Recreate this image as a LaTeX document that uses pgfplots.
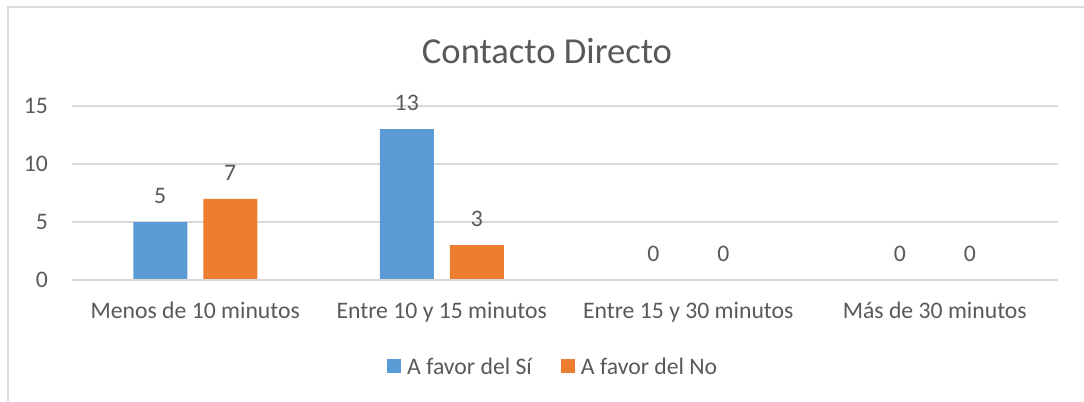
\documentclass[border=0pt]{standalone}
\usepackage{pgfplots}
\pgfplotsset{compat=1.18}
\usepackage{fontspec}
\setmainfont{Carlito}
\definecolor{sblue}{HTML}{5B9BD5}
\definecolor{sorange}{HTML}{ED7D31}
\definecolor{txt}{HTML}{595959}
\definecolor{gridc}{HTML}{D9D9D9}
\newcommand{\lf}{\fontsize{23.7bp}{28bp}\selectfont}
\begin{document}
\begin{tikzpicture}[x=1bp,y=1bp]
\useasboundingbox (0,0) rectangle (1084,401);
\draw[gridc, line width=1.2bp] (8,0) -- (8,394) -- (1084,394);
\node[txt, anchor=base, inner sep=0pt, font=\fontsize{36.6bp}{40bp}\selectfont] at (547,338) {Contacto Directo};
\begin{axis}[
  at={(72bp,121bp)}, anchor=south west,
  scale only axis, width=986bp, height=174bp,
  /pgf/number format/assume math mode=true,
  ymin=0, ymax=15, ytick={0,5,10,15},
  xmin=-0.5, xmax=3.5, xtick={0,1,2,3},
  xticklabels={Menos de 10 minutos, Entre 10 y 15 minutos, Entre 15 y 30 minutos, Más de 30 minutos},
  ymajorgrids, grid style={gridc, line width=1.3bp},
  axis line style={draw=none},
  major tick length=0pt,
  tick label style={txt, font=\lf},
  yticklabel style={anchor=east, inner sep=0pt, xshift=-24bp},
  xticklabel style={anchor=base, inner sep=0pt, yshift=-38bp},
  ybar=16bp, bar width=54bp,
  nodes near coords,
  every node near coord/.append style={txt, font=\lf, inner sep=0pt, yshift=18.5bp},
  legend columns=2,
  legend style={at={(0.487,-0.494)}, anchor=center, draw=none, fill=none, font=\lf, text=txt,
    /tikz/every even column/.append style={column sep=29bp},
    nodes={inner sep=0pt, text depth=0pt}},
  legend image code/.code={\fill[#1] (0bp,-7bp) rectangle (14bp,7bp);},
  legend cell align=left,
  clip=false,
]
\addplot[fill=sblue, draw=none] coordinates {(0,5) (1,13) (2,0) (3,0)};
\addplot[fill=sorange, draw=none] coordinates {(0,7) (1,3) (2,0) (3,0)};
\legend{\hspace{6bp}A favor del Sí, \hspace{6bp}A favor del No}
\draw[gridc, line width=1.3bp] (axis cs:-0.5,0) -- (axis cs:3.5,0);
\end{axis}
\end{tikzpicture}
\end{document}
